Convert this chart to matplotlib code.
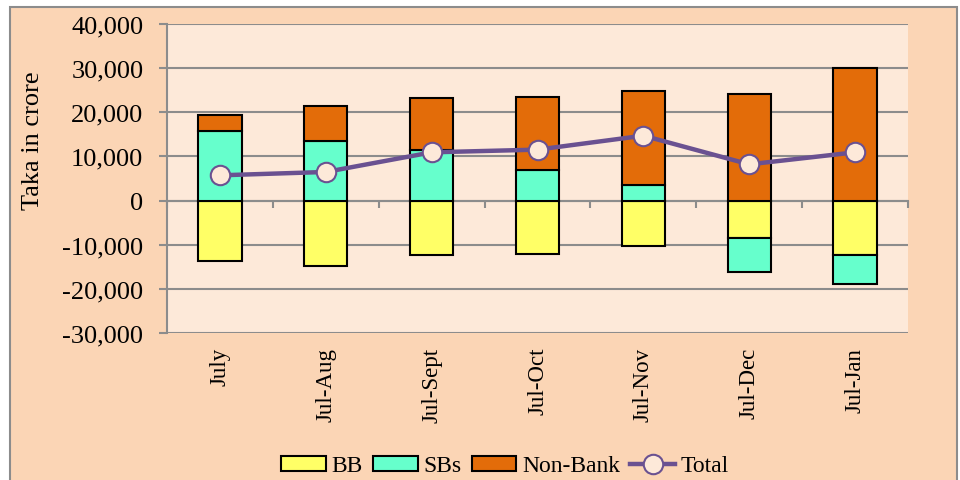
import matplotlib.pyplot as plt
import matplotlib.patches as mpatches
from matplotlib.lines import Line2D
from matplotlib.ticker import FuncFormatter, FixedLocator
import numpy as np

# dati (Taka in crore)
periods = ["July", "Jul-Aug", "Jul-Sept", "Jul-Oct", "Jul-Nov", "Jul-Dec", "Jul-Jan"]
bb = [-13650, -14860, -12370, -12060, -10250, -8440, -12440]
sbs = [15770, 13400, 11380, 6860, 3460, -7690, -6490]
non_bank = [3530, 8000, 11920, 16670, 21350, 24200, 29930]
total = [5720, 6480, 10930, 11540, 14700, 8210, 10930]

c_bb = "#FFFF66"
c_sbs = "#66FFCC"
c_nb = "#E36C09"
c_line = "#6A5191"
grid_c = "#8C8C8C"

plt.rcParams['font.family'] = ['Liberation Serif', 'DejaVu Serif']

fig = plt.figure(figsize=(9.6, 4.81), dpi=100)
fig.patch.set_facecolor("white")
# cornice esterna
frame = mpatches.Rectangle((10/960, -0.01), 947/960, (481-8)/481 + 0.01,
                           transform=fig.transFigure, facecolor="#FBD5B5",
                           edgecolor=grid_c, lw=1.5, zorder=-5)
fig.patches.append(frame)

ax = fig.add_axes([167/960, (481-334)/481, 741/960, 309/481])
ax.set_facecolor("#FDE9D9")

x = np.arange(len(periods))
w = 0.41
bb = np.array(bb); sbs = np.array(sbs); non_bank = np.array(non_bank)

# impilamento: positivi sopra, negativi sotto
pos_base = np.zeros(len(x)); neg_base = np.zeros(len(x))
for vals, col, lab in [(bb, c_bb, "BB"), (sbs, c_sbs, "SBs"), (non_bank, c_nb, "Non-Bank")]:
    bottom = np.where(vals >= 0, pos_base, neg_base)
    ax.bar(x, vals, w, bottom=bottom, color=col, edgecolor="black", lw=1.5, zorder=3, label=lab)
    pos_base = pos_base + np.where(vals >= 0, vals, 0)
    neg_base = neg_base + np.where(vals < 0, vals, 0)

ax.plot(x, total, color=c_line, lw=3.2, marker="o", ms=14, mfc="#FDE9D9",
        mec=c_line, mew=1.5, zorder=5, label="Total")

ax.set_xlim(-0.5, len(x) - 0.5)
ax.set_ylim(-30000, 40000)
ax.set_yticks(range(-30000, 40001, 10000))
ax.yaxis.set_major_formatter(FuncFormatter(lambda v, p: f"{int(v):,}"))
ax.grid(axis="y", color=grid_c, lw=1.5, zorder=1)
ax.set_axisbelow(True)

for s in ["top", "right", "bottom"]:
    ax.spines[s].set_visible(False)
ax.spines["left"].set_color(grid_c)
ax.spines["left"].set_linewidth(1.5)
ax.tick_params(axis="y", colors=grid_c, length=6, width=1.5, pad=11, labelsize=19, labelcolor="black")

ax.set_xticks(x)
ax.set_xticklabels(periods, rotation=90, fontsize=16.5, va="top")
ax.tick_params(axis="x", length=0, pad=10)

# asse delle categorie sulla linea dello zero
sec = ax.secondary_xaxis(3/7)
sec.xaxis.set_major_locator(FixedLocator(np.arange(-0.5, len(x), 1)))
sec.set_xticklabels([])
sec.tick_params(axis="x", direction="out", length=5, width=1.5, colors=grid_c)
sec.spines["bottom"].set_color(grid_c)
sec.spines["bottom"].set_linewidth(1.5)
sec.spines["top"].set_visible(False)

ax.set_ylabel("Taka in crore", fontsize=19)
ax.yaxis.set_label_coords(-0.166, 0.625)

handles = [mpatches.Patch(facecolor=c_bb, edgecolor="black", lw=1.5, label="BB"),
           mpatches.Patch(facecolor=c_sbs, edgecolor="black", lw=1.5, label="SBs"),
           mpatches.Patch(facecolor=c_nb, edgecolor="black", lw=1.5, label="Non-Bank"),
           Line2D([0], [0], color=c_line, lw=3.2, marker="o", ms=14, mfc="#FDE9D9",
                  mec=c_line, mew=1.5, label="Total")]
fig.legend(handles=handles, loc="center", bbox_to_anchor=(505/960, 1 - 467/481), ncol=4,
           frameon=False, fontsize=17, handlelength=1.9, handleheight=0.6,
           handletextpad=0.25, columnspacing=0.42)

fig.savefig("out.png", dpi=100)
